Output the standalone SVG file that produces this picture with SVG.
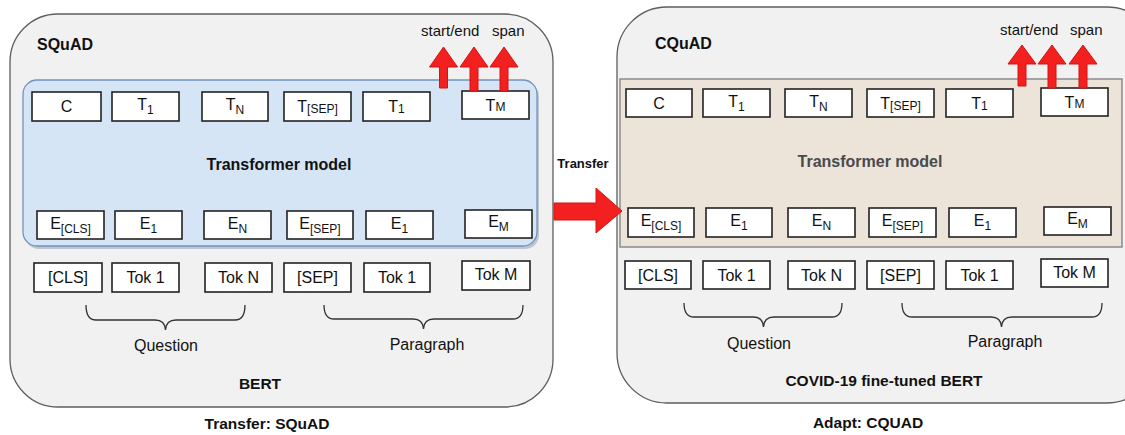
<svg xmlns="http://www.w3.org/2000/svg" width="1125" height="435" viewBox="0 0 1125 435">
<defs>
<style>
text{font-family:"Liberation Sans",Arial,sans-serif;fill:#111;}
.outer{fill:#f2f1f1;stroke:#5e5e5e;stroke-width:1.3;}
.box{fill:#fff;stroke:#222;stroke-width:1.6;}
.lbl{font-size:16px;text-anchor:middle;}
.sub{font-size:12px;}
.title{font-size:16px;font-weight:bold;}
.cap{font-size:15.5px;font-weight:bold;text-anchor:middle;}
.brace{fill:none;stroke:#333;stroke-width:1.3;}
.red{fill:#f2201f;stroke:#d41414;stroke-width:1;}
.out{font-size:15px;}
</style>
</defs>
<rect x="0" y="0" width="1125" height="435" fill="#fff"/>

<g id="panel-squad">
<rect class="outer" x="10" y="14" width="543" height="393" rx="48"/>
<text class="title" x="37" y="50">SQuAD</text>
<text class="out" x="421" y="36">start/end</text>
<text class="out" x="492" y="36">span</text>
<rect x="25" y="83" width="514" height="166" rx="14" fill="#9ea8b6" opacity="0.6"/>
<rect x="23" y="80" width="514" height="166" rx="14" fill="#d6e5f6" stroke="#7391bd" stroke-width="1.3"/>
<text class="title" x="279" y="170" text-anchor="middle">Transformer model</text>
<text class="cap" x="260" y="389">BERT</text>
<text class="cap" x="267" y="429">Transfer: SQuAD</text>
<text class="lbl" x="166" y="351">Question</text>
<text class="lbl" x="427" y="350">Paragraph</text>
</g>

<g id="panel-cquad">
<rect class="outer" x="617" y="7" width="540" height="396" rx="50"/>
<text class="title" x="655" y="49">CQuAD</text>
<text class="out" x="1000" y="35">start/end</text>
<text class="out" x="1070" y="35">span</text>
<rect x="620" y="79" width="502" height="168" fill="#ece4d9" stroke="#8a8a8a" stroke-width="1.5"/>
<text class="title" x="870" y="167" text-anchor="middle" style="fill:#4a4a4a">Transformer model</text>
<text class="cap" x="884" y="386">COVID-19 fine-tuned BERT</text>
<text class="cap" x="868" y="428">Adapt: CQUAD</text>
<text class="lbl" x="759" y="349">Question</text>
<text class="lbl" x="1005" y="347">Paragraph</text>
</g>

<g id="transfer-label">
<text x="583" y="168" style="font-size:13px;font-weight:bold;text-anchor:middle">Transfer</text>
</g>

<!-- left nodes -->
<g id="L-T-C"><rect class="box" x="32" y="92" width="69" height="29"/><text class="lbl" x="66.5" y="112">C</text></g>
<g id="L-T-1"><rect class="box" x="112" y="92" width="67" height="29"/><text class="lbl" x="145.5" y="110">T<tspan class="sub" dy="4">1</tspan></text></g>
<g id="L-T-N"><rect class="box" x="202" y="92" width="66" height="29"/><text class="lbl" x="235" y="110">T<tspan class="sub" dy="4">N</tspan></text></g>
<g id="L-T-SEP"><rect class="box" x="284" y="92" width="67" height="29"/><text class="lbl" x="317.5" y="112">T<tspan class="sub" dy="1">[SEP]</tspan></text></g>
<g id="L-T-1b"><rect class="box" x="363" y="92" width="67" height="29"/><text class="lbl" x="396.5" y="112">T<tspan class="sub" dy="1">1</tspan></text></g>
<g id="L-T-M"><rect class="box" x="462" y="91" width="67" height="28"/><text class="lbl" x="495.5" y="111">T<tspan class="sub">M</tspan></text></g>

<g id="L-E-CLS"><rect class="box" x="37" y="211" width="67" height="28"/><text class="lbl" x="70.5" y="229">E<tspan class="sub" dy="4">[CLS]</tspan></text></g>
<g id="L-E-1"><rect class="box" x="115" y="211" width="67" height="28"/><text class="lbl" x="148.5" y="229">E<tspan class="sub" dy="4">1</tspan></text></g>
<g id="L-E-N"><rect class="box" x="204" y="211" width="67" height="28"/><text class="lbl" x="237.5" y="229">E<tspan class="sub" dy="4">N</tspan></text></g>
<g id="L-E-SEP"><rect class="box" x="287" y="211" width="66" height="28"/><text class="lbl" x="320" y="229">E<tspan class="sub" dy="4">[SEP]</tspan></text></g>
<g id="L-E-1b"><rect class="box" x="366" y="211" width="67" height="28"/><text class="lbl" x="399.5" y="229">E<tspan class="sub" dy="4">1</tspan></text></g>
<g id="L-E-M"><rect class="box" x="465" y="210" width="67" height="28"/><text class="lbl" x="498.5" y="227">E<tspan class="sub" dy="4">M</tspan></text></g>

<g id="L-Tok-CLS"><rect class="box" x="34" y="263" width="68" height="29"/><text class="lbl" x="68" y="283">[CLS]</text></g>
<g id="L-Tok-1"><rect class="box" x="112" y="263" width="67" height="29"/><text class="lbl" x="145.5" y="283">Tok 1</text></g>
<g id="L-Tok-N"><rect class="box" x="205" y="263" width="67" height="29"/><text class="lbl" x="238.5" y="283">Tok N</text></g>
<g id="L-Tok-SEP"><rect class="box" x="284" y="263" width="67" height="29"/><text class="lbl" x="317.5" y="283">[SEP]</text></g>
<g id="L-Tok-1b"><rect class="box" x="364" y="263" width="66" height="29"/><text class="lbl" x="397" y="283">Tok 1</text></g>
<g id="L-Tok-M"><rect class="box" x="462" y="261" width="68" height="29"/><text class="lbl" x="496" y="280">Tok M</text></g>

<!-- right nodes -->
<g id="R-T-C"><rect class="box" x="626" y="89" width="66" height="28"/><text class="lbl" x="659" y="109">C</text></g>
<g id="R-T-1"><rect class="box" x="703" y="89" width="67" height="28"/><text class="lbl" x="736.5" y="107">T<tspan class="sub" dy="4">1</tspan></text></g>
<g id="R-T-N"><rect class="box" x="785" y="89" width="67" height="28"/><text class="lbl" x="818.5" y="107">T<tspan class="sub" dy="4">N</tspan></text></g>
<g id="R-T-SEP"><rect class="box" x="867" y="89" width="67" height="28"/><text class="lbl" x="900.5" y="109">T<tspan class="sub" dy="1">[SEP]</tspan></text></g>
<g id="R-T-1b"><rect class="box" x="946" y="89" width="67" height="28"/><text class="lbl" x="979.5" y="109">T<tspan class="sub" dy="1">1</tspan></text></g>
<g id="R-T-M"><rect class="box" x="1041" y="88" width="67" height="28"/><text class="lbl" x="1074.5" y="108">T<tspan class="sub">M</tspan></text></g>

<g id="R-E-CLS"><rect class="box" x="628" y="208" width="66" height="29"/><text class="lbl" x="661" y="226">E<tspan class="sub" dy="4">[CLS]</tspan></text></g>
<g id="R-E-1"><rect class="box" x="706" y="208" width="66" height="29"/><text class="lbl" x="739" y="226">E<tspan class="sub" dy="4">1</tspan></text></g>
<g id="R-E-N"><rect class="box" x="788" y="208" width="67" height="29"/><text class="lbl" x="821.5" y="226">E<tspan class="sub" dy="4">N</tspan></text></g>
<g id="R-E-SEP"><rect class="box" x="869" y="208" width="67" height="29"/><text class="lbl" x="902.5" y="226">E<tspan class="sub" dy="4">[SEP]</tspan></text></g>
<g id="R-E-1b"><rect class="box" x="949" y="208" width="67" height="29"/><text class="lbl" x="982.5" y="226">E<tspan class="sub" dy="4">1</tspan></text></g>
<g id="R-E-M"><rect class="box" x="1044" y="207" width="67" height="28"/><text class="lbl" x="1077.5" y="224">E<tspan class="sub" dy="4">M</tspan></text></g>

<g id="R-Tok-CLS"><rect class="box" x="625" y="261" width="66" height="28"/><text class="lbl" x="658" y="281">[CLS]</text></g>
<g id="R-Tok-1"><rect class="box" x="703" y="261" width="67" height="28"/><text class="lbl" x="736.5" y="281">Tok 1</text></g>
<g id="R-Tok-N"><rect class="box" x="788" y="261" width="67" height="28"/><text class="lbl" x="821.5" y="281">Tok N</text></g>
<g id="R-Tok-SEP"><rect class="box" x="867" y="261" width="67" height="28"/><text class="lbl" x="900.5" y="281">[SEP]</text></g>
<g id="R-Tok-1b"><rect class="box" x="946" y="261" width="67" height="28"/><text class="lbl" x="979.5" y="281">Tok 1</text></g>
<g id="R-Tok-M"><rect class="box" x="1041" y="259" width="67" height="28"/><text class="lbl" x="1074.5" y="278">Tok M</text></g>

<g id="connectors">
<!-- braces -->
<path class="brace" d="M86,305 Q86,320 96,320 H155 Q165,320 165.5,330 Q166,320 176,320 H235 Q245,320 245,305"/>
<path class="brace" d="M324,305 Q324,319 334,319 H413 Q423,319 423.5,329 Q424,319 434,319 H513 Q523,319 523,305"/>
<path class="brace" d="M684,303 Q684,317 694,317 H753 Q763,317 763.5,327 Q764,317 774,317 H832 Q842,317 842,303"/>
<path class="brace" d="M902,303 Q902,317 912,317 H991 Q1001,317 1001.5,327 Q1002,317 1012,317 H1092 Q1102,317 1102,303"/>
<!-- output arrows left -->
<polygon class="red" points="439.5,88 447.5,88 447.5,67 457.5,67 443.5,47 429.5,67 439.5,67"/>
<polygon class="red" points="470,91 478,91 478,67 488,67 474,47 460,67 470,67"/>
<polygon class="red" points="500,91 508,91 508,67 518,67 504,47 490,67 500,67"/>
<!-- output arrows right -->
<polygon class="red" points="1018,86 1026,86 1026,64 1036,64 1022,45 1008,64 1018,64"/>
<polygon class="red" points="1048,88 1056,88 1056,64 1066,64 1052,45 1038,64 1048,64"/>
<polygon class="red" points="1079,88 1087,88 1087,64 1097,64 1083,45 1069,64 1079,64"/>
<!-- transfer arrow -->
<polygon class="red" points="554,203 596,203 596,188 622,211 596,233 596,220 554,220"/>
</g>
</svg>
